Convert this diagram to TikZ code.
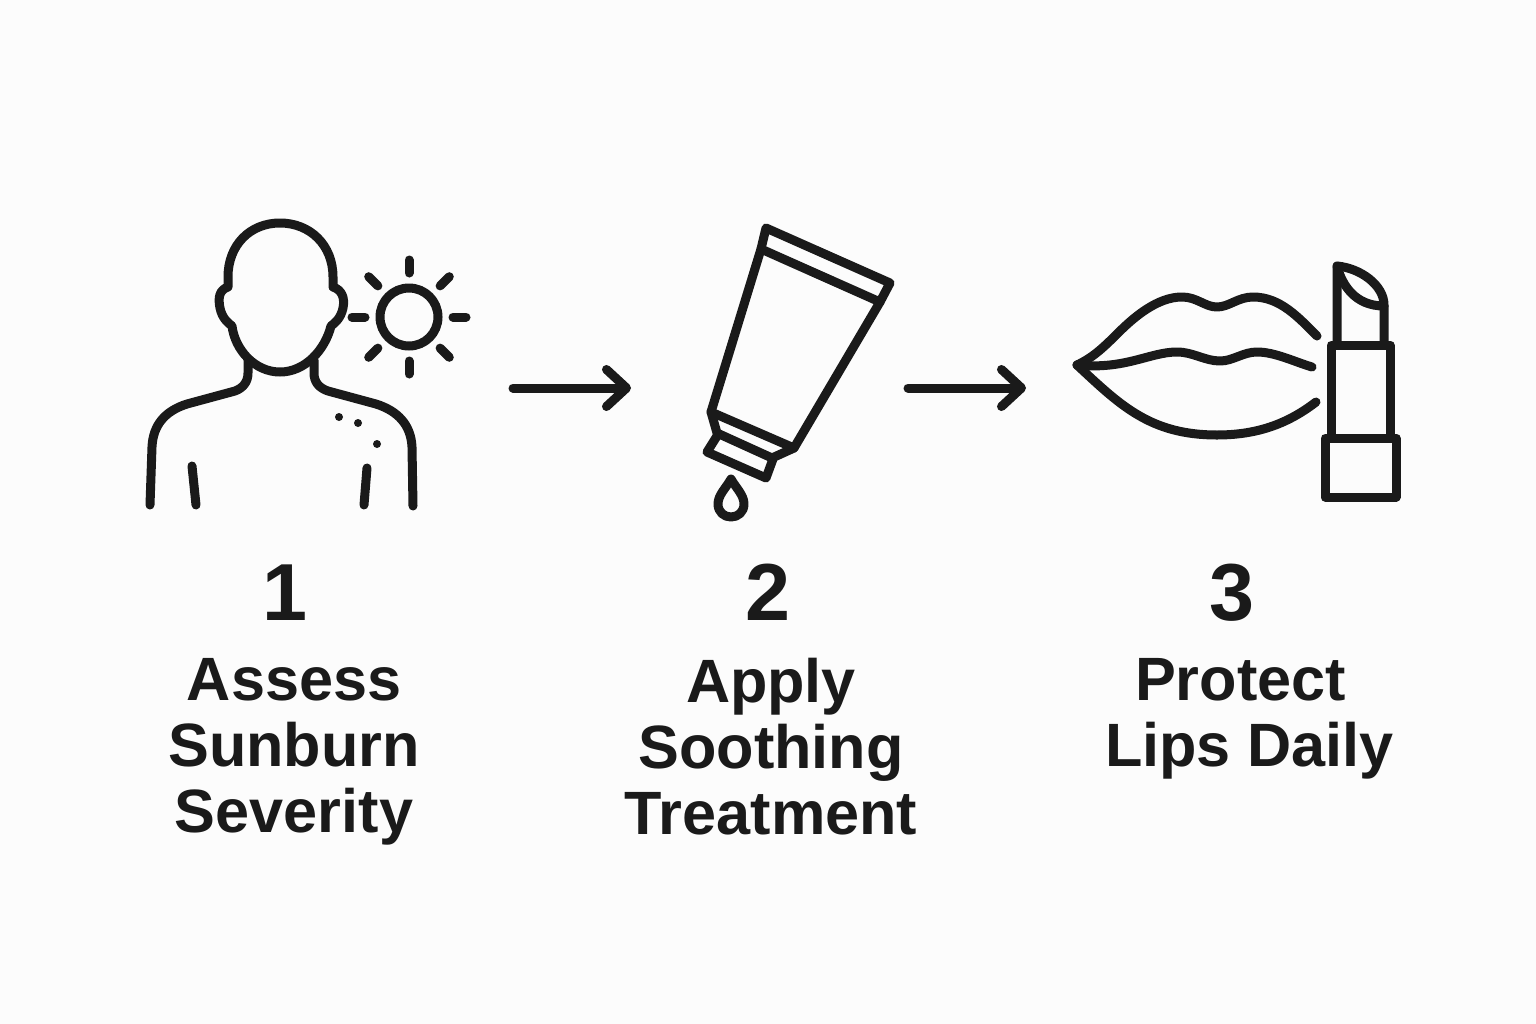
\documentclass[tikz,border=0pt]{standalone}
\usepackage{fontspec}
\setmainfont{Liberation Sans}
\usetikzlibrary{
        positioning,
        arrows.meta
    }
\definecolor{inkblack}{HTML}{1A1A1A}
\definecolor{paper}{HTML}{FCFCFC}

\begin{document}
\begin{tikzpicture}
[x=0.01cm, y=-0.01cm,
iconline/.style={draw=inkblack, line width=0.09cm, line cap=round, line join=round},
arrow/.style={iconline, -{Straight Barb[length=2mm, width=3.7mm, round]}},
spot/.style={fill=inkblack},
stepnum/.style={text=inkblack, inner sep=0pt, anchor=base, text depth=0pt, font=\fontsize{23}{23}\selectfont\bfseries},
steplabel/.style={text=inkblack, inner sep=0pt, align=center, execute at begin node={\rule{0pt}{5mm}}, font=\fontsize{17.4}{18.8}\selectfont\bfseries},
node distance=3cm,]
    \fill[paper] (0,0) rectangle (1536,1024);
    \useasboundingbox (0,0) rectangle (1536,1024);

    % person
    \draw[iconline] (280,223) .. controls (250,223) and (228,245) .. (228,277) -- (228,287)
        .. controls (219,290) and (218,298) .. (220,308) .. controls (222,318) and (228,323) .. (232,326)
        .. controls (235,350) and (255,372) .. (280,372) .. controls (305,372) and (325,350) .. (331,326)
        .. controls (335,323) and (341,318) .. (343,308) .. controls (345,298) and (342,290) .. (333,287)
        -- (333,277) .. controls (333,245) and (310,223) .. (280,223) -- cycle;
    \draw[iconline] (248,360) -- (248,373) .. controls (248,382) and (243,388) .. (235,391)
        -- (187,404) .. controls (165,411) and (153,425) .. (152,447) -- (150,505);
    \draw[iconline] (314,360) -- (314,373) .. controls (314,382) and (319,388) .. (328,391)
        -- (376,404) .. controls (398,411) and (411,425) .. (412,447) -- (413,506);
    \draw[iconline] (192,466) -- (196,505);
    \draw[iconline] (367,468) -- (364,505);
    \fill[spot] (339,417) circle (4) (358,423) circle (4) (377,444) circle (4);

    % sun
    \draw[iconline] (409,317) circle (29);
    \foreach \a in {0,45,...,315} {
        \draw[iconline] ({409+cos(\a)*44},{317+sin(\a)*44}) -- ({409+cos(\a)*57},{317+sin(\a)*57});
    }

    % tube
    \draw[iconline] (766,228) -- (890,283) -- (880,302) -- (794,448) -- (772,458) -- (717,433) -- (711,412) -- (761,249) -- cycle;
    \draw[iconline] (761,249) -- (880,302);
    \draw[iconline] (711,412) -- (794,448);
    \draw[iconline] (717,436) -- (707,452) -- (766,478) -- (773,459);
    \draw[iconline] (731,479) .. controls (726,488) and (718,495) .. (718,504)
        .. controls (718,512) and (724,517) .. (731,517) .. controls (738,517) and (744,512) .. (744,504)
        .. controls (744,495) and (736,488) .. (731,479) -- cycle;

    % lips
    \draw[iconline] (1077,365) .. controls (1092,358) and (1102,349) .. (1118,333)
        .. controls (1135,316) and (1158,297) .. (1182,297) .. controls (1197,297) and (1205,307) .. (1217,307)
        .. controls (1229,307) and (1238,297) .. (1253,297) .. controls (1280,297) and (1298,317) .. (1317,336);
    \draw[iconline] (1077,365) .. controls (1125,370) and (1150,352) .. (1177,352)
        .. controls (1193,352) and (1205,361) .. (1220,361) .. controls (1233,361) and (1243,352) .. (1257,352)
        .. controls (1275,352) and (1295,362) .. (1312,367);
    \draw[iconline] (1077,365) .. controls (1120,405) and (1150,435) .. (1217,435)
        .. controls (1260,435) and (1290,422) .. (1316,402);

    % lipstick
    \draw[iconline] (1325,438) rectangle (1396,497);
    \draw[iconline] (1331,345) rectangle (1390,438);
    \draw[iconline] (1337,345) -- (1337,266) .. controls (1360,268) and (1384,285) .. (1384,305) -- (1384,345);
    \draw[iconline] (1337,266) .. controls (1342,285) and (1355,306) .. (1384,306);

    % arrows
    \coordinate (from1) at (513,388);
    \coordinate (to1) at (631,388);
    \coordinate (from2) at (908,388);
    \coordinate (to2) at (1026,388);
    \draw[arrow] (from1) -- (to1);
    \draw[arrow] (from2) -- (to2);

    % numbers and labels
    \node (num1) [stepnum] at (285,620) {1};
    \node (num2) [stepnum] at (768,620) {2};
    \node (num3) [stepnum] at (1232,620) {3};
    \node (label1) [steplabel, below=0.365cm of num1, xshift=0.09cm] {Assess\\Sunburn\\Severity};
    \node (label2) [steplabel, below=0.365cm of num2, xshift=0.03cm] {Apply\\Soothing\\Treatment};
    \node (label3) [steplabel, below=0.365cm of num3, xshift=0.13cm] {Protect\hspace*{0.09cm}\\\hspace*{0.09cm}Lips Daily};
\end{tikzpicture}
\end{document}
